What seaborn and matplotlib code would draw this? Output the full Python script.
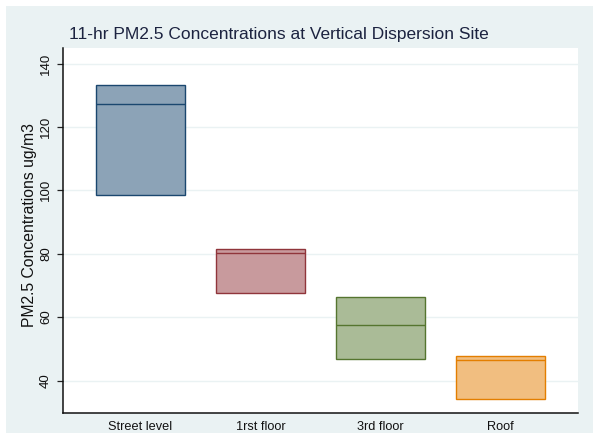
import matplotlib
matplotlib.use("Agg")
import matplotlib.pyplot as plt
import seaborn as sns
import pandas as pd

# Data (box statistics)
categories = ["Street level", "1rst floor", "3rd floor", "Roof"]
q1_values = [98.6, 67.7, 46.8, 34.2]
median_values = [127.3, 80.2, 57.4, 46.4]
q3_values = [133.1, 81.5, 66.3, 47.8]
y_ticks = [40, 60, 80, 100, 120, 140]

edge_colors = ["#1a476f", "#90353b", "#55752f", "#e37e00"]
fill_colors = ["#8ca3b7", "#c89a9d", "#aabb97", "#f1be80"]

rows = []
for cat, lo, med, hi in zip(categories, q1_values, median_values, q3_values):
    for v in (lo, lo, med, hi, hi):
        rows.append({"site": cat, "value": v})
df = pd.DataFrame(rows)

sns.set_theme(style="white")
plt.rcParams["font.family"] = ["Liberation Sans", "DejaVu Sans"]

fig = plt.figure(figsize=(6.0, 4.43), dpi=100, facecolor="white")
bg = fig.add_axes([6 / 600, 1 - 433 / 443, 587 / 600, 427 / 443], zorder=-10)
bg.set_facecolor("#eaf2f3")
bg.set_xticks([])
bg.set_yticks([])
for s in bg.spines.values():
    s.set_visible(False)

ax = fig.add_axes([63 / 600, 1 - 413 / 443, (578 - 63) / 600, (413 - 48) / 443], zorder=1)
ax.set_facecolor("white")

for cat, fc, ec in zip(categories, fill_colors, edge_colors):
    sns.boxplot(data=df[df["site"] == cat], x="site", y="value", order=categories,
                color=fc, linecolor=ec, saturation=1, width=0.74, whis=0,
                showcaps=False, showfliers=False, linewidth=1.0,
                whiskerprops={"linewidth": 0}, ax=ax)

ax.set_xlim(-0.646, 3.646)
ax.set_ylim(29.75, 144.9)
ax.set_yticks(y_ticks)
ax.set_yticklabels([str(t) for t in y_ticks], rotation=90, va="center")
ax.yaxis.grid(True, color="#eaf2f3", linewidth=1.0)
ax.set_axisbelow(True)
ax.tick_params(axis="y", left=True, length=4, width=0.9, color="#222222",
               pad=4, labelsize=9.5, labelcolor="#111111")
ax.tick_params(axis="x", bottom=False, length=0, pad=6, labelsize=9.2,
               labelcolor="#111111")
for side in ("top", "right"):
    ax.spines[side].set_visible(False)
for side in ("left", "bottom"):
    ax.spines[side].set_color("#111111")
    ax.spines[side].set_linewidth(1.1)
ax.set_xlabel("")
ax.set_ylabel("")

fig.text(30 / 600, 1 - 225 / 443, "PM2.5 Concentrations ug/m3", rotation=90,
         ha="center", va="center", fontsize=11.3, color="#111111")
fig.text(279 / 600, 1 - 34 / 443,
         "11-hr PM2.5 Concentrations at Vertical Dispersion Site",
         ha="center", va="center", fontsize=12.5, color="#1c2340")

fig.savefig("out.png", dpi=100, facecolor="white")
